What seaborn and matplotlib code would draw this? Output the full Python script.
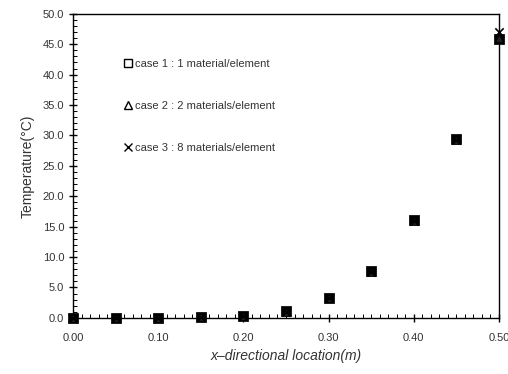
import matplotlib
matplotlib.use("Agg")
import matplotlib.pyplot as plt
import seaborn as sns
import pandas as pd
from matplotlib.ticker import MultipleLocator, FormatStrFormatter
from matplotlib.lines import Line2D

x_loc = [0.00, 0.05, 0.10, 0.15, 0.20, 0.25, 0.30, 0.35, 0.40, 0.45, 0.50]
case1 = [0.0, 0.0, 0.0, 0.1, 0.3, 1.2, 3.3, 7.7, 16.1, 29.4, 45.8]
case2 = [0.0, 0.0, 0.0, 0.1, 0.3, 1.0, 3.3, 7.6, 16.0, 29.3, 46.0]
case3 = [0.0, 0.0, 0.0, 0.1, 0.3, 0.9, 3.2, 7.5, 16.0, 29.3, 47.0]
labels = ["case 1 : 1 material/element",
          "case 2 : 2 materials/element",
          "case 3 : 8 materials/element"]

df = pd.DataFrame({
    "x": x_loc * 3,
    "T": case1 + case2 + case3,
    "case": [labels[0]] * 11 + [labels[1]] * 11 + [labels[2]] * 11,
})

sns.set_theme(style="ticks")
plt.rcParams['font.family'] = ['Liberation Sans', 'DejaVu Sans']

fig = plt.figure(figsize=(5.08, 3.74), dpi=100)
ax = fig.add_axes([0.144, 0.150, 0.838, 0.813])

txtc = "#333333"
sns.scatterplot(data=df[df.case == labels[0]], x="x", y="T", marker="s", s=45,
                color="black", edgecolor="black", ax=ax, legend=False, zorder=3,
                clip_on=False)
sns.scatterplot(data=df[df.case == labels[1]], x="x", y="T", marker="^", s=28,
                color="#222222", edgecolor="black", ax=ax, legend=False, zorder=4,
                clip_on=False)
sns.scatterplot(data=df[df.case == labels[2]], x="x", y="T", marker="x", s=36,
                color="black", linewidth=1.2, ax=ax, legend=False, zorder=5,
                clip_on=False)

ax.set_xlim(0.0, 0.5)
ax.set_ylim(0.0, 50.0)
ax.xaxis.set_major_locator(MultipleLocator(0.1))
ax.xaxis.set_minor_locator(MultipleLocator(0.01))
ax.yaxis.set_major_locator(MultipleLocator(5.0))
ax.yaxis.set_minor_locator(MultipleLocator(1.0))
ax.xaxis.set_major_formatter(FormatStrFormatter("%.2f"))
ax.yaxis.set_major_formatter(FormatStrFormatter("%.1f"))
ax.tick_params(axis="both", which="major", direction="inout", length=6, width=1,
               labelsize=8, labelcolor=txtc, color="black")
ax.tick_params(axis="both", which="minor", direction="in", length=3, width=0.7,
               color="black")
ax.tick_params(axis="x", which="major", pad=8)
for sp in ax.spines.values():
    sp.set_visible(True)
    sp.set_color("black")
    sp.set_linewidth(1.0)

ax.set_xlabel("x\u2013directional location(m)", fontsize=10, color=txtc,
              style="italic", labelpad=4)
ax.set_ylabel("Temperature(\u00b0C)", fontsize=10, color=txtc, labelpad=6)

handles = [
    Line2D([], [], marker="s", linestyle="none", markerfacecolor="white",
           markeredgecolor="black", markersize=6),
    Line2D([], [], marker="^", linestyle="none", markerfacecolor="white",
           markeredgecolor="black", markersize=6),
    Line2D([], [], marker="x", linestyle="none", color="black", markersize=6),
]
leg = ax.legend(handles, labels, loc="upper left", bbox_to_anchor=(0.105, 0.865),
                frameon=False, fontsize=8, labelspacing=2.85, handletextpad=0.15,
                handlelength=1.0, borderaxespad=0)
for t in leg.get_texts():
    t.set_color(txtc)

fig.savefig("out.png", dpi=100)
